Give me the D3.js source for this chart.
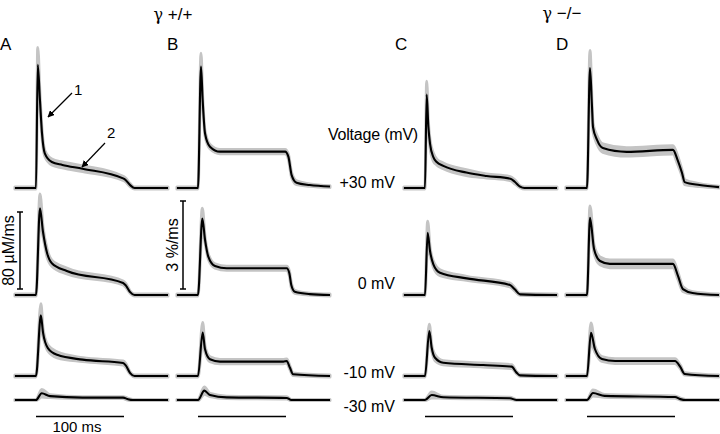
<!DOCTYPE html>
<html>
<head>
<meta charset="utf-8">
<script src="https://cdn.jsdelivr.net/npm/d3@7"></script>
<style>
  body { margin: 0; background: #fff; }
  svg { display: block; font-family: "Liberation Sans", Arial, sans-serif; }
</style>
</head>
<body>
<svg id="chart" width="720" height="434"></svg>
<script>
// every point is [time (ms), mean, sem]

// A: release flux, gamma +/+ (uM/ms)
var fluxWT_p30 = [[-24,0,1],[0,0,1],[2,128,18],[4.5,91,6],[6.8,57,4],[10,36,3],[18,27,3],[30,24,3],[53,20,3],[99,10,2],[101,9,2],[107,3,1.5],[112,0,1],[150,0,1]];
var fluxWT_0   = [[-24,0,1],[0,0,1],[4.5,90,15],[7.9,66,5],[12.5,44,4],[18,33,3],[35,25,3],[99,12.5,2],[102,10,2],[107,3,1],[112,0,1],[150,0,1]];
var fluxWT_m10 = [[-24,0,1],[0,0,1],[5.5,63,12],[8,45,4],[13.5,29,3],[24,22,3],[53,17,2],[99,13.5,2],[102,11,2],[107,3,1],[112,0,1],[150,0,1]];
var fluxWT_m30 = [[-24,0,0.5],[0,0,0.5],[6.5,7,4],[16,4,1.5],[53,2.5,1],[99,2.5,1],[104,1,1],[110,0,0.5],[150,0,0.5]];

// B: fluorescence rate, gamma +/+ (%/ms)
var fluoWT_p30 = [[-24,0,0.03],[0,0,0.03],[3.4,4.14,0.45],[5.3,3.0,0.12],[8,1.86,0.08],[13.6,1.41,0.07],[25,1.24,0.07],[99,1.24,0.07],[102.7,1.07,0.08],[106.4,0.44,0.08],[112,0.18,0.06],[127,0.1,0.04],[150,0.05,0.03]];
var fluoWT_0   = [[-24,0,0.03],[0,0,0.03],[4.9,2.61,0.35],[8,1.88,0.1],[11.7,1.31,0.08],[19.3,0.99,0.07],[32.6,0.91,0.07],[100.8,0.91,0.07],[103.8,0.74,0.08],[106,0.34,0.08],[110,0.11,0.05],[127,0.03,0.03],[150,0,0.03]];
var fluoWT_m10 = [[-24,0,0.03],[0,0,0.03],[5.3,1.48,0.34],[8,0.91,0.1],[13.6,0.57,0.08],[25,0.49,0.07],[97,0.49,0.07],[100.8,0.51,0.07],[104.5,0.28,0.06],[108,0.06,0.04],[150,0,0.03]];
var fluoWT_m30 = [[-24,0,0.02],[0,0,0.02],[7.2,0.32,0.12],[13.6,0.17,0.05],[32.6,0.09,0.04],[100.8,0.07,0.04],[106,0,0.02],[150,0,0.02]];

// C: release flux, gamma -/- (uM/ms)
var fluxKO_p30 = [[-24,0,1],[0,0,1],[1.9,97,14],[3.8,64,5],[5.7,46,4],[9.5,32,4],[13.3,27,3],[20.8,23,3],[47,16,3],[70,12.5,2],[97,9.7,2],[102,6.5,2],[108,1.4,1],[113,0,1],[150,0,1]];
var fluxKO_0   = [[-24,0,1],[0,0,1],[3,64.7,12],[5.7,45.7,4],[9.5,31.9,3],[17,23.2,3],[47.4,17.3,2],[96.6,10.4,2],[102,5.9,1.5],[108,0.7,1],[150,0,1]];
var fluxKO_m10 = [[-24,0,1],[0,0,1],[4.9,46.8,7],[7.6,29.4,3],[11.4,19,3],[20.8,13.8,2],[66,11.4,2],[98.5,9.7,2],[104,3.5,1],[108,0.7,1],[150,0,1]];
var fluxKO_m30 = [[-24,0,0.5],[0,0,0.5],[7.6,5.2,3],[20.8,2.8,1],[96.6,1.8,1],[104,0,0.5],[150,0,0.5]];

// D: fluorescence rate, gamma -/- (%/ms)
var fluoKO_p30 = [[-24,0,0.03],[0,0,0.03],[3.4,4.09,0.6],[5.7,2.76,0.15],[6.8,2.08,0.14],[11.4,1.64,0.14],[18,1.36,0.14],[45,1.23,0.14],[97.7,1.3,0.14],[103,0.95,0.14],[108,0.51,0.1],[111,0.2,0.08],[128,0.1,0.05],[150,0.03,0.03]];
var fluoKO_0   = [[-24,0,0.03],[0,0,0.03],[3.4,2.63,0.4],[8,1.57,0.13],[14.8,1.16,0.13],[26,1.06,0.13],[97.7,1.06,0.13],[103.4,0.65,0.12],[109,0.2,0.08],[120,0.07,0.04],[150,0,0.03]];
var fluoKO_m10 = [[-24,0,0.03],[0,0,0.03],[4.5,1.47,0.34],[9,0.92,0.1],[17,0.58,0.08],[32,0.51,0.08],[100,0.51,0.08],[106,0.31,0.06],[111,0.07,0.04],[150,0,0.03]];
var fluoKO_m30 = [[-24,0,0.02],[0,0,0.02],[6.8,0.24,0.1],[20,0.14,0.05],[100,0.1,0.04],[106,0.03,0.03],[112,0,0.02],[150,0,0.02]];

var panelLetters = ['A', 'B', 'C', 'D'];
var voltageLabels = ['+30 mV', '0 mV', '-10 mV', '-30 mV'];
var genotypes = ['+/+', '−/−'];

var panels = [
  {kind: 'flux', traces: [fluxWT_p30, fluxWT_0, fluxWT_m10, fluxWT_m30]},
  {kind: 'fluo', traces: [fluoWT_p30, fluoWT_0, fluoWT_m10, fluoWT_m30]},
  {kind: 'flux', traces: [fluxKO_p30, fluxKO_0, fluxKO_m10, fluxKO_m30]},
  {kind: 'fluo', traces: [fluoKO_p30, fluoKO_0, fluoKO_m10, fluoKO_m30]}
];

// layout
var svg = d3.select('#chart');
var pulseX = [36, 198, 425, 587];      // x of pulse onset in each column
var rowBase = [188, 295, 376, 400];    // baseline of each voltage row
var msPx = 88;                         // px for 100 ms
var unitPx = {flux: 77 / 80, fluo: 88 / 3};

var gray = '#c4c4c4';

panels.forEach(function(p, ci) {
  var x = d3.scaleLinear().domain([0, 100]).range([pulseX[ci], pulseX[ci] + msPx]);
  var g = svg.append('g');

  p.traces.forEach(function(tr, ri) {
    var k = unitPx[p.kind];
    var y = d3.scaleLinear().domain([0, 1]).range([rowBase[ri], rowBase[ri] - k]);

    var area = d3.area()
      .x(function(d) { return x(d[0]); })
      .y0(function(d) { return y(d[1] - d[2]); })
      .y1(function(d) { return y(d[1] + d[2]); })
      .curve(d3.curveMonotoneX);

    var line = d3.line()
      .x(function(d) { return x(d[0]); })
      .y(function(d) { return y(d[1]); })
      .curve(d3.curveMonotoneX);

    g.append('path').attr('d', area(tr))
      .attr('fill', gray).attr('stroke', gray)
      .attr('stroke-width', 3).attr('stroke-linejoin', 'round');
    g.append('path').attr('d', line(tr))
      .attr('fill', 'none').attr('stroke', '#000')
      .attr('stroke-width', 2.1).attr('stroke-linejoin', 'round');
  });

  // 100 ms bar under each column
  g.append('line')
    .attr('x1', x(0)).attr('x2', x(100))
    .attr('y1', 416.5).attr('y2', 416.5)
    .attr('stroke', '#000').attr('stroke-width', 1.3);

  // panel letter
  var lx = [0, 167, 395, 556][ci];
  g.append('text').attr('x', lx).attr('y', 50)
    .attr('font-size', 17).text(panelLetters[ci]);
});

// genotype headers
[[173, 20], [562, 19]].forEach(function(pos, i) {
  var t = svg.append('text').attr('x', pos[0]).attr('y', pos[1])
    .attr('text-anchor', 'middle').attr('font-size', 17);
  t.append('tspan').attr('font-family', '"DejaVu Serif", "Liberation Serif", serif')
    .attr('font-size', 16).text('γ');
  t.append('tspan').text(' ' + genotypes[i]);
});

// voltage labels
svg.append('text').attr('x', 418).attr('y', 140).attr('text-anchor', 'end')
  .attr('font-size', 16).attr('letter-spacing', -0.2).text('Voltage (mV)');
var labelY = [188, 289, 378, 412];
voltageLabels.forEach(function(v, i) {
  svg.append('text').attr('x', 395).attr('y', labelY[i])
    .attr('text-anchor', 'end').attr('font-size', 16).text(v);
});

// "100 ms" label
svg.append('text').attr('x', 77).attr('y', 432).attr('text-anchor', 'middle')
  .attr('font-size', 15).text('100 ms');

// vertical scale bars
function scaleBar(xb, y0, len, label, lxp) {
  var b = svg.append('g').attr('stroke', '#000').attr('stroke-width', 1.5);
  b.append('line').attr('x1', xb).attr('x2', xb).attr('y1', y0).attr('y2', y0 - len);
  b.append('line').attr('x1', xb - 3).attr('x2', xb + 3).attr('y1', y0).attr('y2', y0);
  b.append('line').attr('x1', xb - 3).attr('x2', xb + 3).attr('y1', y0 - len).attr('y2', y0 - len);
  svg.append('text')
    .attr('transform', 'translate(' + lxp + ',' + (y0 - len / 2) + ') rotate(-90)')
    .attr('text-anchor', 'middle').attr('font-size', 16).text(label);
}
scaleBar(20, 289, 80 * unitPx.flux, '80 µM/ms', 14);
scaleBar(183, 289, 3 * unitPx.fluo, '3 %/ms', 178);

// arrows on panel A
var defs = svg.append('defs');
defs.append('marker').attr('id', 'head')
  .attr('viewBox', '0 0 10 10').attr('refX', 9).attr('refY', 5)
  .attr('markerWidth', 7).attr('markerHeight', 7).attr('orient', 'auto')
  .attr('markerUnits', 'userSpaceOnUse')
  .append('path').attr('d', 'M0,0L10,5L0,10z').attr('fill', '#000');

var arrows = [
  {label: '1', from: [72, 93], to: [48, 117], tx: 74, ty: 95},
  {label: '2', from: [105, 143], to: [82, 167], tx: 107, ty: 138}
];
arrows.forEach(function(a) {
  svg.append('line')
    .attr('x1', a.from[0]).attr('y1', a.from[1])
    .attr('x2', a.to[0]).attr('y2', a.to[1])
    .attr('stroke', '#000').attr('stroke-width', 1.2)
    .attr('marker-end', 'url(#head)');
  svg.append('text').attr('x', a.tx).attr('y', a.ty)
    .attr('font-size', 15).text(a.label);
});
</script>
</body>
</html>
